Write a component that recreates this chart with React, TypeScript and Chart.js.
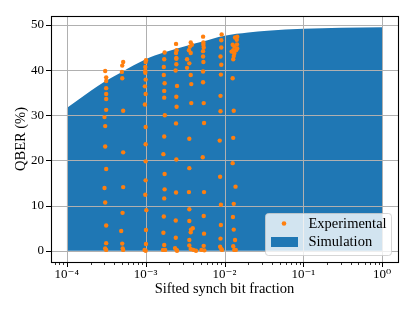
import React, { useEffect, useRef } from "react";
import { Chart, registerables } from "chart.js";

Chart.register(...registerables);

// ---- Data ----
const simX = [1e-4, 2e-4, 3e-4, 5e-4, 1e-3, 1.7e-3, 3.7e-3, 5e-3, 1e-2, 2e-2, 3.5e-2, 1e-1, 3e-1, 1];
const simY = [31.6, 35.4, 37.4, 39.6, 42.4, 43.9, 45.6, 46.2, 47.6, 48.3, 48.7, 49.15, 49.4, 49.5];

const expColA: [number, number][] = [
  [3.07e-4, 39.8], [3.16e-4, 38.4], [3.16e-4, 37.6], [3.16e-4, 36.0], [3.16e-4, 34.7], [3.16e-4, 33.6],
  [3.16e-4, 31.2], [3.01e-4, 29.6], [3.07e-4, 27.6], [3.07e-4, 23.1], [3.16e-4, 18.1], [3.01e-4, 13.9],
  [3.07e-4, 10.7], [3.16e-4, 5.6], [3.16e-4, 1.7], [3.07e-4, 0.5], [3.16e-4, 0.2],
];
const expColB: [number, number][] = [
  [5.19e-4, 41.8], [5.05e-4, 41.0], [5.0e-4, 39.6], [5.05e-4, 38.2], [5.19e-4, 31.0], [5.19e-4, 21.8],
  [5.19e-4, 14.1], [5.1e-4, 8.4], [4.9e-4, 4.4], [5.05e-4, 1.6], [5.12e-4, 0.5], [5.19e-4, 0.2],
];
const expColC: [number, number][] = [
  [1.01e-3, 42.2], [1.0e-3, 41.8], [0.99e-3, 40.7], [0.99e-3, 39.8], [0.99e-3, 39.4], [1.0e-3, 37.9],
  [0.98e-3, 36.4], [1.0e-3, 34.7], [0.98e-3, 32.4], [1.0e-3, 27.4], [1.0e-3, 23.6], [1.0e-3, 19.8],
  [1.0e-3, 15.6], [0.99e-3, 12.4], [1.02e-3, 9.0], [1.01e-3, 4.6], [1.01e-3, 1.5], [0.97e-3, 0.2], [1.0e-3, 0.0],
];
const expColD: [number, number][] = [
  [1.74e-3, 43.9], [1.72e-3, 42.4], [1.70e-3, 40.7], [1.70e-3, 38.9], [1.74e-3, 37.1], [1.72e-3, 35.4],
  [1.72e-3, 33.9], [1.75e-3, 30.0], [1.72e-3, 25.3], [1.68e-3, 21.4], [1.74e-3, 17.0], [1.74e-3, 13.6],
  [1.72e-3, 11.6], [1.70e-3, 7.6], [1.68e-3, 4.0], [1.72e-3, 1.3], [1.66e-3, 0.2], [1.77e-3, 0.2],
];
const expColE: [number, number][] = [
  [2.43e-3, 45.8], [2.47e-3, 44.4], [2.43e-3, 43.8], [2.45e-3, 42.7], [2.45e-3, 42.5], [2.45e-3, 41.3],
  [2.40e-3, 39.9], [2.50e-3, 36.5], [2.45e-3, 34.1], [2.47e-3, 31.9], [2.43e-3, 28.2], [2.45e-3, 20.2],
  [2.43e-3, 12.9], [2.41e-3, 6.7], [2.41e-3, 2.9], [2.36e-3, 0.6], [2.47e-3, 0.2], [2.50e-3, 0.0],
];
const expColF: [number, number][] = [
  [3.73e-3, 46.1], [3.86e-3, 45.6], [3.65e-3, 45.2], [3.54e-3, 44.4], [3.73e-3, 43.8], [3.35e-3, 42.4],
  [3.58e-3, 41.5], [3.35e-3, 40.5], [3.73e-3, 38.9], [3.79e-3, 36.9], [3.79e-3, 32.7], [3.58e-3, 24.8],
  [3.58e-3, 18.3], [3.54e-3, 13.0], [3.58e-3, 9.2], [3.58e-3, 6.6], [3.76e-3, 4.7], [3.96e-3, 5.0],
  [3.73e-3, 4.1], [3.58e-3, 2.4], [3.58e-3, 1.2], [3.73e-3, 0.4], [4.04e-3, 0.2], [4.35e-3, 0.0],
];
const expColG: [number, number][] = [
  [5.35e-3, 47.4], [5.40e-3, 46.1], [5.40e-3, 45.6], [5.45e-3, 45.0], [5.35e-3, 44.2], [5.35e-3, 43.0],
  [5.40e-3, 41.8], [5.35e-3, 39.7], [5.35e-3, 37.3], [5.45e-3, 32.7], [5.50e-3, 28.3], [5.30e-3, 20.7],
  [5.50e-3, 13.0], [5.45e-3, 7.7], [5.50e-3, 3.8], [5.45e-3, 1.1], [5.10e-3, 0.2], [5.55e-3, 0.1],
];
const expColH: [number, number][] = [
  [9.2e-3, 47.9], [9.1e-3, 46.6], [9.1e-3, 45.0], [8.9e-3, 43.0], [9.1e-3, 41.2], [9.0e-3, 39.0],
  [8.9e-3, 34.3], [8.9e-3, 30.9], [8.7e-3, 24.4], [8.8e-3, 16.4], [9.0e-3, 10.2], [9.0e-3, 5.7],
  [8.9e-3, 2.7], [8.8e-3, 0.9], [9.1e-3, 0.4], [9.3e-3, 0.2],
];
const expColI: [number, number][] = [
  [1.36e-2, 47.2], [1.45e-2, 47.4], [1.43e-2, 46.7], [1.27e-2, 45.6], [1.44e-2, 45.7], [1.33e-2, 45.2],
  [1.45e-2, 44.8], [1.23e-2, 44.1], [1.29e-2, 44.4], [1.33e-2, 43.7], [1.40e-2, 44.4], [1.31e-2, 43.1],
  [1.29e-2, 42.4], [1.27e-2, 38.2], [1.31e-2, 31.0], [1.29e-2, 25.0], [1.27e-2, 19.4], [1.38e-2, 14.2],
  [1.31e-2, 10.4], [1.28e-2, 7.5], [1.31e-2, 4.7], [1.36e-2, 2.4], [1.29e-2, 1.0], [1.33e-2, 0.2], [1.39e-2, 0.2],
];
const expColumns = [expColA, expColB, expColC, expColD, expColE, expColF, expColG, expColH, expColI];

const xTickValues = [1e-4, 1e-3, 1e-2, 1e-1, 1];
const xTickLabels = ["10\u207B\u2074", "10\u207B\u00B3", "10\u207B\u00B2", "10\u207B\u00B9", "10\u2070"];
const yTickValues = [0, 10, 20, 30, 40, 50];
const yTickLabels = ["0", "10", "20", "30", "40", "50"];

const seriesLabels = ["Experimental", "Simulation"];
const xTitle = "Sifted synch bit fraction";
const yTitle = "QBER (%)";

const BLUE = "#1f77b4";
const ORANGE = "#ff7f0e";
const SERIF = "'Liberation Serif', 'DejaVu Serif', serif";

const mplPlugin = {
  id: "mplLook",
  afterDatasetDraw(chart: any, args: any) {
    if (args.index !== 1) return;
    const { ctx, chartArea: a, scales } = chart;
    ctx.save();
    ctx.strokeStyle = "#b0b0b0";
    ctx.lineWidth = 1;
    for (const v of xTickValues) {
      const px = Math.round(scales.x.getPixelForValue(v)) + 0.5;
      ctx.beginPath();
      ctx.moveTo(px, a.top);
      ctx.lineTo(px, a.bottom);
      ctx.stroke();
    }
    for (const v of yTickValues) {
      const py = Math.round(scales.y.getPixelForValue(v)) + 0.5;
      ctx.beginPath();
      ctx.moveTo(a.left, py);
      ctx.lineTo(a.right, py);
      ctx.stroke();
    }
    ctx.restore();
  },
  afterDraw(chart: any) {
    const { ctx, chartArea: a, scales } = chart;
    ctx.save();
    // ticks
    ctx.strokeStyle = "#000";
    ctx.lineWidth = 1;
    for (const v of xTickValues) {
      const px = Math.round(scales.x.getPixelForValue(v)) + 0.5;
      ctx.beginPath();
      ctx.moveTo(px, a.bottom);
      ctx.lineTo(px, a.bottom + 5);
      ctx.stroke();
    }
    ctx.lineWidth = 0.8;
    for (let d = -5; d <= 0; d++) {
      for (let k = 2; k <= 9; k++) {
        const v = k * Math.pow(10, d);
        if (v < scales.x.min || v > scales.x.max) continue;
        const px = Math.round(scales.x.getPixelForValue(v)) + 0.5;
        ctx.beginPath();
        ctx.moveTo(px, a.bottom);
        ctx.lineTo(px, a.bottom + 3);
        ctx.stroke();
      }
    }
    ctx.lineWidth = 1;
    for (const v of yTickValues) {
      const py = Math.round(scales.y.getPixelForValue(v)) + 0.5;
      ctx.beginPath();
      ctx.moveTo(a.left, py);
      ctx.lineTo(a.left - 5, py);
      ctx.stroke();
    }
    // frame
    ctx.lineWidth = 1.1;
    ctx.strokeStyle = "#000";
    ctx.strokeRect(Math.round(a.left) + 0.5, Math.round(a.top) + 0.5, Math.round(a.right - a.left), Math.round(a.bottom - a.top));

    // legend
    const lx = 265, ly = 213, lw = 126, lh = 42;
    ctx.beginPath();
    (ctx as any).roundRect(lx + 0.5, ly + 0.5, lw, lh, 3);
    ctx.fillStyle = "rgba(255,255,255,0.8)";
    ctx.fill();
    ctx.strokeStyle = "rgba(204,204,204,0.8)";
    ctx.lineWidth = 1;
    ctx.stroke();
    ctx.fillStyle = ORANGE;
    ctx.beginPath();
    ctx.arc(284, 223.5, 2.3, 0, Math.PI * 2);
    ctx.fill();
    ctx.fillStyle = BLUE;
    ctx.fillRect(271, 237, 27, 10);
    ctx.fillStyle = "#000";
    ctx.font = `14.5px ${SERIF}`;
    ctx.textBaseline = "middle";
    ctx.textAlign = "left";
    ctx.fillText(seriesLabels[0], 308.5, 224);
    ctx.fillText(seriesLabels[1], 308.5, 242.5);
    ctx.restore();
  },
};

export default function App() {
  const ref = useRef<HTMLCanvasElement | null>(null);
  useEffect(() => {
    document.body.style.margin = "0";
    if (!ref.current) return;
    const expData = expColumns.flat().map(([x, y]) => ({ x, y }));
    const simData = simX.map((x, i) => ({ x, y: simY[i] }));
    const chart = new Chart(ref.current, {
      type: "scatter",
      data: {
        datasets: [
          {
            label: seriesLabels[0],
            data: expData,
            backgroundColor: ORANGE,
            borderColor: ORANGE,
            pointRadius: 2.2,
            pointBorderWidth: 0,
            order: 0,
          } as any,
          {
            type: "line",
            label: seriesLabels[1],
            data: simData,
            backgroundColor: BLUE,
            borderColor: BLUE,
            borderWidth: 0,
            pointRadius: 0,
            fill: "origin",
            cubicInterpolationMode: "monotone",
            order: 1,
          } as any,
        ],
      },
      options: {
        responsive: false,
        animation: false,
        layout: { padding: { left: 0, top: 16, right: 17, bottom: 0 } },
        plugins: { legend: { display: false }, tooltip: { enabled: false } },
        scales: {
          x: {
            type: "logarithmic",
            min: Math.pow(10, -4.2),
            max: Math.pow(10, 0.2),
            afterBuildTicks: (s: any) => {
              s.ticks = xTickValues.map((v) => ({ value: v }));
            },
            afterFit: (s: any) => {
              s.height = 49;
            },
            grid: { display: false, drawTicks: false },
            border: { display: false },
            ticks: {
              autoSkip: false,
              maxRotation: 0,
              padding: 5,
              color: "#000",
              font: { family: SERIF, size: 13 },
              callback: (_v: any, i: number) => xTickLabels[i],
            },
            title: {
              display: true,
              text: xTitle,
              color: "#000",
              font: { family: SERIF, size: 14.5 },
              padding: { top: 0, bottom: 13 },
            },
          },
          y: {
            type: "linear",
            min: -2.475,
            max: 51.975,
            afterBuildTicks: (s: any) => {
              s.ticks = yTickValues.map((v) => ({ value: v }));
            },
            afterFit: (s: any) => {
              s.width = 51;
            },
            grid: { display: false, drawTicks: false },
            border: { display: false },
            ticks: {
              autoSkip: false,
              padding: 7,
              color: "#000",
              font: { family: SERIF, size: 13 },
              callback: (_v: any, i: number) => yTickLabels[i],
            },
            title: {
              display: true,
              text: yTitle,
              color: "#000",
              font: { family: SERIF, size: 14.5 },
              padding: { top: 12, bottom: 0 },
            },
          },
        },
      },
      plugins: [mplPlugin],
    } as any);
    return () => chart.destroy();
  }, []);
  return (
    <div style={{ width: 415, height: 311 }}>
      <canvas ref={ref} width={415} height={311} style={{ width: 415, height: 311, display: "block" }} />
    </div>
  );
}
